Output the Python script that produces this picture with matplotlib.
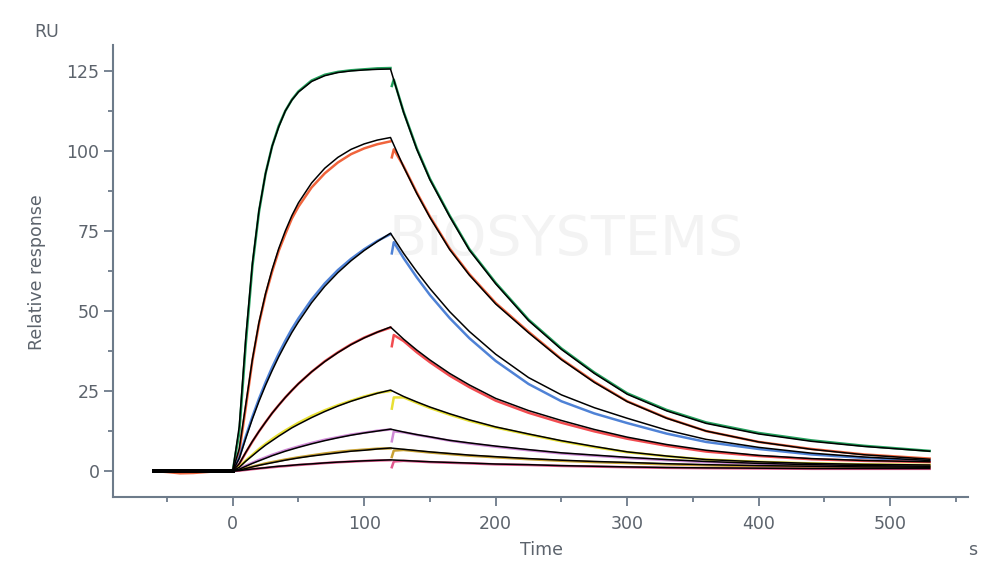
import matplotlib.pyplot as plt
from matplotlib.ticker import MultipleLocator

# time axes (s)
t_base = [-60, -50, -40, -30, -20, -10, 0]
t_on = [0, 5, 10, 15, 20, 25, 30, 35, 40, 45, 50, 60, 70, 80, 90, 100, 110, 120]
t_off_fit = [120, 130, 140, 150, 165, 180, 200, 225, 250, 275, 300, 330, 360, 400, 440, 480, 530]
t_off_data = [121, 122.5, 130, 140, 150, 165, 180, 200, 225, 250, 275, 300, 330, 360, 400, 440, 480, 530]

# baseline of the sensorgrams (RU)
base_zero = [0, 0, 0, 0, 0, 0, 0]
base_orange = [0, -0.3, -0.7, -0.6, -0.3, 0, 0]

# measured curves, association / dissociation (RU)
green_on = [0, 12, 40, 64, 81, 93, 101.5, 107.8, 112.5, 116.0, 118.6, 122, 123.8, 124.7, 125.2, 125.5, 125.8, 125.9]
green_off = [120.3, 122.3, 112.2, 100.8, 91.3, 79.8, 69.3, 58.8, 47.3, 38.3, 30.8, 24.3, 19.1, 15.2, 11.9, 9.6, 7.9, 6.3]
orange_on = [0, 6, 20, 34.5, 46, 55, 62.3, 68.8, 74, 78.9, 82.6, 88.6, 93, 96.4, 99, 100.8, 102.1, 103.0]
orange_off = [98, 100.5, 95.2, 87, 79.5, 69.5, 61.5, 52.5, 43.5, 35.0, 27.9, 21.8, 16.6, 12.5, 9.1, 6.9, 5.2, 3.9]
blue_on = [0, 4.2, 10.9, 17.0, 22.6, 27.7, 32.4, 36.7, 40.7, 44.4, 47.7, 53.6, 58.6, 62.8, 66.3, 69.3, 71.9, 74.0]
blue_off = [68, 71.5, 66.5, 60.5, 55.0, 47.8, 41.5, 34.4, 27.2, 21.8, 18.0, 15.0, 11.7, 9.1, 6.9, 5.2, 4.1, 3.2]
red_on = [0, 2.2, 5.8, 9.2, 12.4, 15.3, 18.1, 20.6, 23.0, 25.2, 27.3, 31.0, 34.3, 37.1, 39.6, 41.7, 43.4, 44.8]
red_off = [39, 42.5, 40.6, 37.1, 34.0, 29.8, 26.2, 22.0, 18.2, 15.1, 12.4, 10.1, 7.9, 6.1, 4.7, 3.7, 3.2, 2.8]
yellow_on = [0, 1.3, 3.3, 5.1, 6.9, 8.5, 10.0, 11.4, 12.7, 13.9, 15.1, 17.2, 19.0, 20.6, 22.0, 23.3, 24.4, 25.0]
yellow_off = [19.5, 23.0, 23.0, 21.3, 19.7, 17.6, 15.7, 13.6, 11.4, 9.3, 7.5, 5.9, 4.6, 3.6, 2.9, 2.4, 2.1, 1.9]
violet_on = [0, 0.7, 1.7, 2.6, 3.5, 4.3, 5.1, 5.8, 6.5, 7.1, 7.7, 8.8, 9.8, 10.6, 11.4, 12.0, 12.6, 13.0]
violet_off = [9.3, 12.4, 12.1, 11.3, 10.6, 9.5, 8.6, 7.6, 6.5, 5.5, 4.8, 4.1, 3.4, 2.8, 2.3, 1.9, 1.6, 1.4]
tan_on = [0, 0.3, 0.9, 1.4, 1.9, 2.4, 2.8, 3.2, 3.6, 3.95, 4.3, 4.9, 5.5, 6.0, 6.4, 6.7, 7.0, 7.1]
tan_off = [4.4, 6.4, 6.6, 6.2, 5.8, 5.3, 4.8, 4.3, 3.7, 3.2, 2.8, 2.5, 2.1, 1.8, 1.5, 1.3, 1.2, 1.1]
pink_on = [0, 0.15, 0.35, 0.6, 0.8, 1.0, 1.2, 1.4, 1.55, 1.75, 1.9, 2.2, 2.5, 2.75, 2.95, 3.15, 3.3, 3.4]
pink_off = [1.2, 3.0, 3.2, 3.0, 2.8, 2.6, 2.4, 2.1, 1.9, 1.6, 1.4, 1.2, 1.0, 0.9, 0.8, 0.7, 0.7, 0.7]

# 1:1 fits (RU)
green_fit_on = [0, 14, 42, 65, 81.5, 93, 101.5, 107.5, 112.5, 115.9, 118.4, 121.7, 123.5, 124.5, 125.0, 125.3, 125.5, 125.6]
green_fit_off = [125.6, 112, 100.5, 91, 79.5, 69, 58.5, 47, 38, 30.5, 24, 18.8, 14.9, 11.6, 9.3, 7.7, 6.2]
orange_fit_on = [0, 7, 21, 35, 46.5, 55.5, 63, 69.5, 75, 79.8, 83.8, 90, 94.6, 98, 100.5, 102.2, 103.4, 104.2]
orange_fit_off = [104.2, 95, 86.7, 79.2, 69.2, 61.2, 52.2, 43.2, 34.8, 27.7, 21.7, 16.5, 12.5, 9.1, 6.8, 5.1, 3.7]
blue_fit_on = [0, 4, 10.3, 16.3, 21.8, 26.8, 31.4, 35.7, 39.6, 43.3, 46.6, 52.6, 57.7, 62.0, 65.7, 68.9, 71.7, 74.3]
blue_fit_off = [74.3, 68.0, 62.3, 57.0, 49.8, 43.6, 36.5, 29.2, 23.8, 19.8, 16.5, 12.8, 9.9, 7.4, 5.6, 4.4, 3.3]
red_fit_on = [0, 2.3, 5.9, 9.3, 12.4, 15.3, 18.1, 20.6, 23.0, 25.2, 27.3, 31.0, 34.2, 37.0, 39.5, 41.6, 43.4, 45.0]
red_fit_off = [45.0, 41.2, 37.8, 34.7, 30.5, 26.9, 22.7, 18.9, 15.8, 13.0, 10.6, 8.3, 6.5, 4.9, 3.9, 3.3, 2.9]
yellow_fit_on = [0, 1.2, 3.1, 4.8, 6.5, 8.1, 9.5, 10.9, 12.2, 13.5, 14.6, 16.7, 18.6, 20.3, 21.8, 23.1, 24.3, 25.3]
yellow_fit_off = [25.3, 23.3, 21.6, 20.0, 17.9, 16.0, 13.8, 11.6, 9.5, 7.7, 6.0, 4.7, 3.6, 2.9, 2.4, 2.1, 1.9]
violet_fit_on = [0, 0.6, 1.5, 2.4, 3.2, 4.0, 4.8, 5.5, 6.2, 6.8, 7.4, 8.5, 9.5, 10.4, 11.2, 11.9, 12.5, 13.1]
violet_fit_off = [13.1, 12.2, 11.4, 10.7, 9.6, 8.8, 7.8, 6.7, 5.7, 5.0, 4.3, 3.6, 3.0, 2.4, 2.0, 1.7, 1.5]
tan_fit_on = [0, 0.3, 0.8, 1.3, 1.8, 2.2, 2.6, 3.0, 3.4, 3.75, 4.1, 4.7, 5.2, 5.7, 6.2, 6.5, 6.9, 7.2]
tan_fit_off = [7.2, 6.8, 6.4, 6.0, 5.5, 5.0, 4.5, 3.9, 3.4, 3.0, 2.7, 2.3, 2.0, 1.7, 1.5, 1.3, 1.2]
pink_fit_on = [0, 0.15, 0.4, 0.65, 0.85, 1.05, 1.3, 1.5, 1.65, 1.8, 2.0, 2.25, 2.55, 2.8, 3.0, 3.2, 3.35, 3.5]
pink_fit_off = [3.5, 3.3, 3.1, 2.9, 2.7, 2.5, 2.2, 2.0, 1.7, 1.5, 1.3, 1.1, 1.0, 0.9, 0.8, 0.8, 0.8]

colors = ["#23a05c", "#f0643c", "#4f82d6", "#f24c50", "#e8e034", "#d08ad6", "#c9a234", "#e2588e"]
bases = [base_zero, base_orange, base_zero, base_zero, base_zero, base_zero, base_zero, base_zero]
data_on = [green_on, orange_on, blue_on, red_on, yellow_on, violet_on, tan_on, pink_on]
data_off = [green_off, orange_off, blue_off, red_off, yellow_off, violet_off, tan_off, pink_off]
fit_on = [green_fit_on, orange_fit_on, blue_fit_on, red_fit_on, yellow_fit_on, violet_fit_on, tan_fit_on, pink_fit_on]
fit_off = [green_fit_off, orange_fit_off, blue_fit_off, red_fit_off, yellow_fit_off, violet_fit_off, tan_fit_off, pink_fit_off]

axis_col = "#6d7b8a"
text_col = "#5c636c"

fig = plt.figure(figsize=(10, 5.82), dpi=100)
ax = fig.add_axes([0.1133, 0.1466, 0.855, 0.7761])

# faint watermark
ax.text(0.529, 0.568, "BIOSYSTEMS", transform=ax.transAxes, ha="center", va="center",
        fontsize=40, color="#f3f3f3", zorder=0)

for i in range(len(colors)):
    c = colors[i]
    ax.plot(t_base, bases[i], color=c, lw=1.8, zorder=2)
    ax.plot(t_on, data_on[i], color=c, lw=1.8, zorder=2)
    ax.plot(t_off_data, data_off[i], color=c, lw=1.8, zorder=2)

for i in range(len(colors)):
    ax.plot(t_base, base_zero, color="black", lw=2.6, zorder=3)
    ax.plot(t_on + t_off_fit[1:], fit_on[i] + fit_off[i][1:], color="black", lw=1.1, zorder=3)

ax.set_xlim(-90.8, 559.4)
ax.set_ylim(-8.0, 133.1)

ax.xaxis.set_major_locator(MultipleLocator(100))
ax.xaxis.set_minor_locator(MultipleLocator(50))
ax.yaxis.set_major_locator(MultipleLocator(25))
ax.yaxis.set_minor_locator(MultipleLocator(12.5))

for s in ["top", "right"]:
    ax.spines[s].set_visible(False)
for s in ["left", "bottom"]:
    ax.spines[s].set_color(axis_col)
    ax.spines[s].set_linewidth(1.5)

ax.tick_params(which="major", length=6.5, width=1.3, color=axis_col, labelcolor=text_col, labelsize=12.5)
ax.tick_params(which="minor", length=3.5, width=1.3, color=axis_col)
ax.tick_params(axis="x", which="major", pad=7)
ax.tick_params(axis="y", which="major", pad=3.5)

fig.text(0.047, 1 - 32 / 582, "RU", ha="center", va="center", fontsize=12.5, color=text_col)
fig.text(0.037, 1 - 272 / 582, "Relative response", ha="center", va="center",
         rotation=90, fontsize=12.5, color=text_col)
fig.text(0.542, 1 - 550 / 582, "Time", ha="center", va="center", fontsize=12.5, color=text_col)
fig.text(0.973, 1 - 550 / 582, "s", ha="center", va="center", fontsize=12.5, color=text_col)

fig.savefig("out.png", dpi=100)
